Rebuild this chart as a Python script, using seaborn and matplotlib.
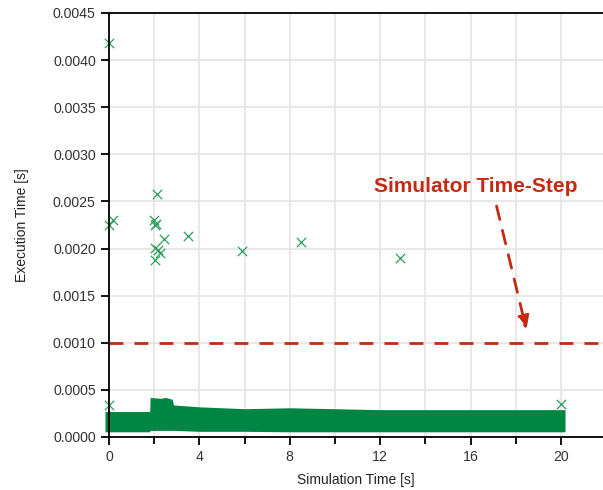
import matplotlib
matplotlib.use("Agg")
import matplotlib.pyplot as plt
import seaborn as sns
import pandas as pd

# Dense band of execution times (envelope)
band_t = [-0.18, 1.8, 1.82, 2.3, 2.5, 2.8, 2.85, 4.0, 6.0, 8.0, 10.0, 12.0, 14.0, 16.0, 18.0, 20.18]
band_upper = [0.00027, 0.00027, 0.00042, 0.00041, 0.00042, 0.00040, 0.00034, 0.00032, 0.00030,
              0.00031, 0.00030, 0.00029, 0.00029, 0.00029, 0.00029, 0.00029]
band_lower = [0.000055, 0.000055, 0.00007, 0.00007, 0.00007, 0.00007, 0.00007, 0.00006, 0.00006,
              0.000055, 0.000055, 0.000055, 0.000055, 0.000055, 0.000055, 0.000055]

# Outlier execution times
out_t = [0.0, 0.0, 0.19, 0.02, 2.11, 2.0, 2.08, 2.02, 2.45, 3.48, 5.87, 2.03, 2.18, 2.26,
         2.03, 8.5, 12.88, 20.0]
out_v = [0.00418, 0.00225, 0.00230, 0.00034, 0.00258, 0.00230, 0.00226, 0.00225, 0.00210,
         0.00213, 0.00197, 0.00201, 0.00198, 0.00195, 0.00188, 0.00207, 0.00190, 0.00035]

time_step = 0.001
x_ticks = [0, 4, 8, 12, 16, 20]
y_ticks = [0.0, 0.0005, 0.0010, 0.0015, 0.0020, 0.0025, 0.0030, 0.0035, 0.0040, 0.0045]

sns.set_style("white")
plt.rcParams['font.family'] = ['Liberation Sans', 'DejaVu Sans']

fig = plt.figure(figsize=(6.03, 4.90), dpi=100)
ax = fig.add_axes([0.1808, 0.1082, 0.8192, 0.8653])

ax.fill_between(band_t, band_lower, band_upper, color="#008542", linewidth=0,
                zorder=3, clip_on=False)

df = pd.DataFrame({"t": out_t, "v": out_v})
sns.scatterplot(data=df, x="t", y="v", marker="x", s=45, color="#2e9e5e",
                linewidth=0.9, ax=ax, zorder=4, clip_on=False)

ax.axhline(time_step, color="#c42b12", linestyle=(0, (5, 4)), linewidth=2, zorder=5)

ax.annotate("", xy=(18.5, 0.00111), xytext=(17.12, 0.00248),
            arrowprops=dict(arrowstyle="-|>,head_length=0.8,head_width=0.35",
                            color="#c42b12", linestyle=(0, (5, 4)), linewidth=2),
            zorder=6)
ax.text(16.24, 0.00266, "Simulator Time-Step", color="#c42b12", fontsize=15,
        fontweight="bold", ha="center", va="center", zorder=6)

ax.set_xlim(0, 21.86)
ax.set_ylim(0, 0.0045)
ax.set_xticks(x_ticks)
ax.set_xticks([2, 6, 10, 14, 18], minor=True)
ax.set_yticks(y_ticks)
ax.set_yticklabels([f"{v:.4f}" for v in y_ticks])
ax.grid(True, which="both", color="#e6e6e6", linewidth=1.3, zorder=0)
ax.set_axisbelow(True)

for s in ["left", "bottom", "top"]:
    ax.spines[s].set_visible(True)
    ax.spines[s].set_color("black")
    ax.spines[s].set_linewidth(1.3)
    ax.spines[s].set_zorder(6)
ax.spines["right"].set_visible(False)

ax.tick_params(axis="both", which="major", direction="out", length=6, width=1.3,
               color="black", labelsize=10.2, labelcolor="#333333", bottom=True, left=True)
ax.tick_params(axis="x", which="minor", direction="out", length=5, width=1.3,
               color="black", bottom=True)

ax.set_xlabel("Simulation Time [s]", fontsize=10, color="#222222", labelpad=6)
ax.set_ylabel("Execution Time [s]", fontsize=10, color="#222222", labelpad=17)

fig.savefig("out.png", dpi=100)
